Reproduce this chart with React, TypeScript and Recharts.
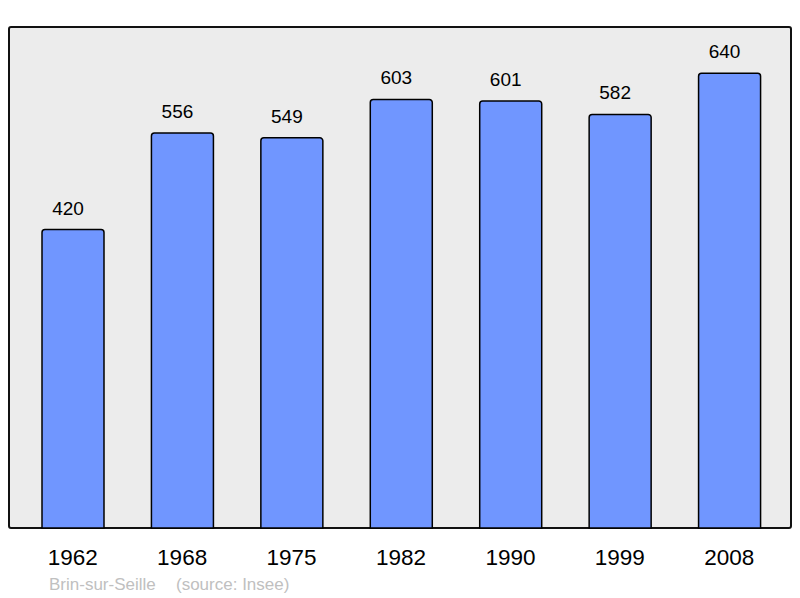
import { BarChart, Bar, XAxis, YAxis, LabelList } from 'recharts';

const years = ['1962', '1968', '1975', '1982', '1990', '1999', '2008'];
const population = [420, 556, 549, 603, 601, 582, 640];

const data = years.map((year, i) => ({ year, pop: population[i] }));

const font = '"Liberation Sans", Arial, sans-serif';

export default function App() {
  return (
    <div style={{ position: 'absolute', left: 0, top: 0, width: 800, height: 598, background: '#fff', fontFamily: font }}>
      <div
        style={{
          position: 'absolute',
          left: 8,
          top: 26,
          width: 780,
          height: 499,
          background: '#ececec',
          border: '2px solid #111',
          borderRadius: 3,
        }}
      />
      <div style={{ position: 'absolute', left: 0, top: 0 }}>
        <BarChart width={800} height={598} data={data} margin={{ top: 27, right: 9, bottom: 0, left: 9 }}>
          <XAxis
            dataKey="year"
            height={70}
            axisLine={false}
            tickLine={false}
            tickMargin={15}
            padding={{ left: 9, right: 7 }}
            tick={{ fill: '#000', fontSize: 22.5, fontFamily: font }}
          />
          <YAxis hide domain={[0, 705]} />
          <Bar dataKey="pop" fill="#7096ff" stroke="#000" strokeWidth={1.5} barSize={62} radius={[3, 3, 0, 0]} isAnimationActive={false}>
            <LabelList dataKey="pop" position="top" offset={15} dx={-5} fill="#000" fontSize={19} fontFamily={font} />
          </Bar>
        </BarChart>
      </div>
      <div style={{ position: 'absolute', left: 49, top: 575, fontSize: 17, color: '#c0c0c0', whiteSpace: 'pre' }}>
        Brin-sur-Seille
      </div>
      <div style={{ position: 'absolute', left: 176, top: 575, fontSize: 17, color: '#c0c0c0', whiteSpace: 'pre' }}>
        (source: Insee)
      </div>
    </div>
  );
}
